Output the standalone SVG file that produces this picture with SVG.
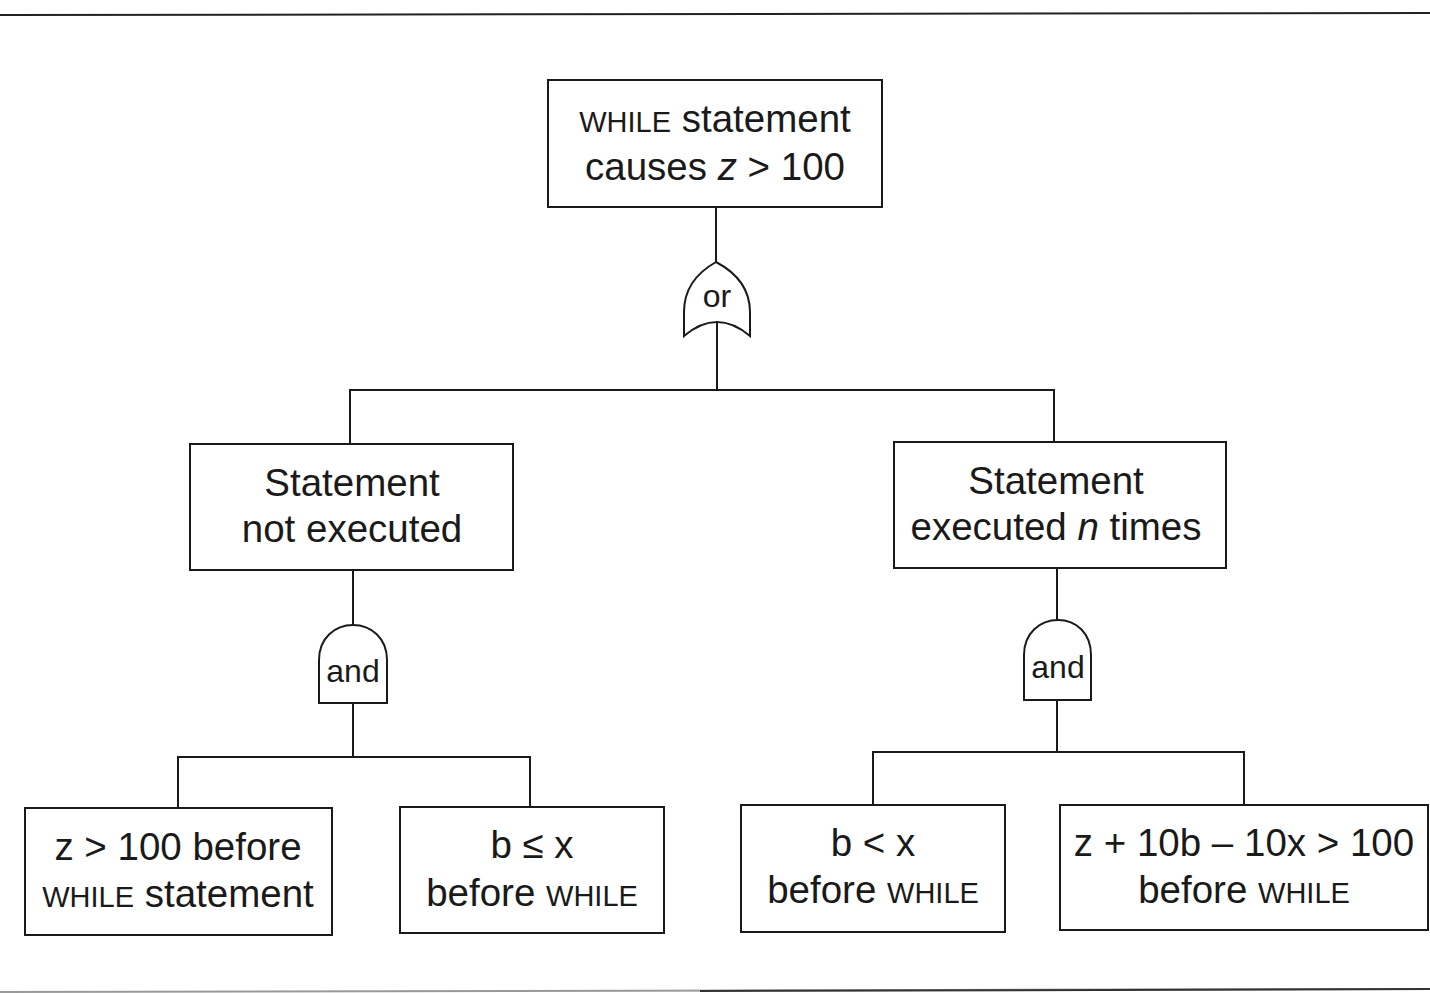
<svg xmlns="http://www.w3.org/2000/svg" width="1430" height="993" viewBox="0 0 1430 993">
<style>
.box{fill:#fff;stroke:#1a1a1a;stroke-width:2}
.gate{fill:#fff;stroke:#1a1a1a;stroke-width:2}
.ln{fill:none;stroke:#1a1a1a;stroke-width:2}
text{font-family:"Liberation Sans",Arial,sans-serif;font-size:38.5px;fill:#1a1a1a;text-anchor:middle}
.sc{font-size:29px}
.g{font-size:32px}
</style>
<rect width="1430" height="993" fill="#fff"/>
<line x1="0" y1="15" x2="1430" y2="13" stroke="#222" stroke-width="2"/>
<line x1="0" y1="992" x2="1430" y2="989" stroke="#999" stroke-width="2"/>
<line x1="700" y1="991" x2="1430" y2="989" stroke="#333" stroke-width="2"/>
<g id="connectors">
<path class="ln" d="M716,207 V262"/>
<path class="ln" d="M717,322 V390"/>
<path class="ln" d="M350,444 V390 H1054 V442"/>
<path class="ln" d="M353,570 V625"/>
<path class="ln" d="M353,703 V757"/>
<path class="ln" d="M178,808 V757 H530 V807"/>
<path class="ln" d="M1057,568 V620"/>
<path class="ln" d="M1057,700 V752"/>
<path class="ln" d="M873,805 V752 H1244 V805"/>
</g>
<g id="top">
<rect class="box" x="548" y="80" width="334" height="127"/>
<text x="715" y="132"><tspan class="sc">WHILE</tspan> statement</text>
<text x="715" y="180">causes <tspan font-style="italic">z</tspan> &gt; 100</text>
</g>
<g id="or-gate">
<path class="gate" d="M716,262 Q684,280 684,312 L684,336 Q717,308 750,336 L750,312 Q750,280 716,262 Z"/>
<text class="g" x="717" y="307">or</text>
</g>
<g id="not-executed">
<rect class="box" x="190" y="444" width="323" height="126"/>
<text x="352" y="496">Statement</text>
<text x="352" y="542">not executed</text>
</g>
<g id="executed-n">
<rect class="box" x="894" y="442" width="332" height="126"/>
<text x="1056" y="494">Statement</text>
<text x="1056" y="540">executed <tspan font-style="italic">n</tspan> times</text>
</g>
<g id="and-left">
<path class="gate" d="M319,703 L319,660 C319,638 335,625 353,625 C371,625 387,638 387,660 L387,703 Z"/>
<text class="g" x="353" y="682">and</text>
</g>
<g id="and-right">
<path class="gate" d="M1024,700 L1024,655 C1024,633 1040,620 1058,620 C1076,620 1091,633 1091,655 L1091,700 Z"/>
<text class="g" x="1058" y="678">and</text>
</g>
<g id="leaf1">
<rect class="box" x="25" y="808" width="307" height="127"/>
<text x="178" y="860">z &gt; 100 before</text>
<text x="178" y="907"><tspan class="sc">WHILE</tspan> statement</text>
</g>
<g id="leaf2">
<rect class="box" x="400" y="807" width="264" height="126"/>
<text x="532" y="858">b ≤ x</text>
<text x="532" y="906">before <tspan class="sc">WHILE</tspan></text>
</g>
<g id="leaf3">
<rect class="box" x="741" y="805" width="264" height="127"/>
<text x="873" y="856">b &lt; x</text>
<text x="873" y="903">before <tspan class="sc">WHILE</tspan></text>
</g>
<g id="leaf4">
<rect class="box" x="1060" y="805" width="368" height="125"/>
<text x="1244" y="856">z + 10b – 10x &gt; 100</text>
<text x="1244" y="903">before <tspan class="sc">WHILE</tspan></text>
</g>
</svg>
